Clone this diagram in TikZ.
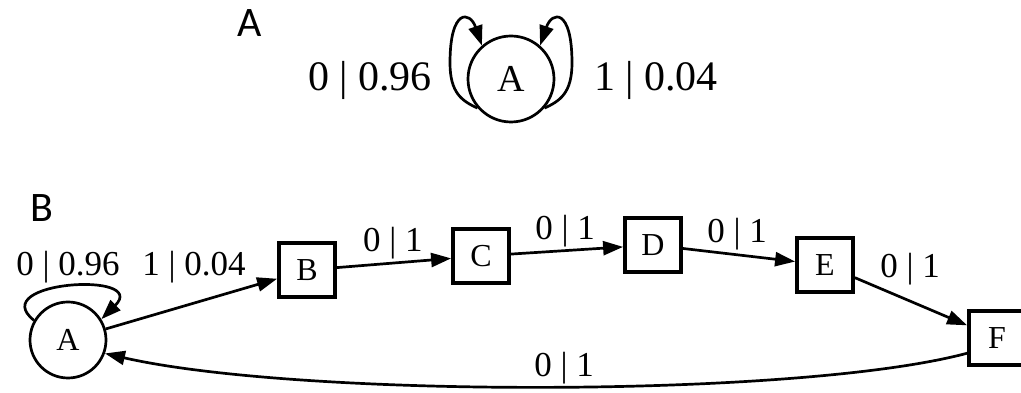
\documentclass[tikz,border=0pt]{standalone}
\usepackage{fontspec}
\setmainfont{Liberation Serif}
\newfontfamily\panelfont{Carlito}
\usetikzlibrary{arrows.meta}

\tikzset{
  panel/.style={font=\panelfont\fontsize{42}{44}\selectfont, inner sep=0pt},
  bigstate/.style={circle, draw, line width=2.7pt, minimum size=86pt, inner sep=0pt,
                   font=\fontsize{38}{40}\selectfont},
  state/.style={circle, draw, line width=2.7pt, minimum size=76pt, inner sep=0pt,
                font=\fontsize{32}{34}\selectfont},
  chain/.style={rectangle, draw, line width=3.8pt, minimum width=56pt, minimum height=54pt,
                inner sep=0pt, font=\fontsize{32}{34}\selectfont},
  biglabel/.style={font=\fontsize{42}{44}\selectfont, inner sep=0pt},
  elabel/.style={font=\fontsize{35}{38}\selectfont, inner sep=0pt},
  trans/.style={line width=2.7pt, -{Triangle[length=20pt,width=14pt]}},
}

\begin{document}
\begin{tikzpicture}[x=1pt, y=1pt]
  \useasboundingbox (0,0) rectangle (1021,393);

  % ---- panel A: single state with two self-loops ----
  \node[panel] (pa) at (250,370) {A};
  \node[bigstate] (A1) at (511,314) {A};
  \draw[trans] (A1.221) .. controls (462,292) and (450,300) .. (450,330)
                        .. controls (450,385) and (470,382) .. (A1.131);
  \draw[trans] (A1.319) .. controls (560,292) and (572,300) .. (572,330)
                        .. controls (572,385) and (552,382) .. (A1.49);
  \node[biglabel] (l0) at (370,313) {0 | 0.96};
  \node[biglabel] (l1) at (656,313) {1 | 0.04};

  % ---- panel B: chain of states ----
  \node[panel] (pb) at (42,185) {B};
  \node[state] (A2) at (68,53) {A};
  \node[chain] (B) at (307,123) {B};
  \node[chain] (C) at (481,137) {C};
  \node[chain] (D) at (653,148) {D};
  \node[chain] (E) at (825,128) {E};
  \node[chain] (F) at (997,55)  {F};

  \draw[trans] (A2.150) .. controls (-15,112) and (150,122) .. (A2.32);
  \node[elabel] (a0) at (68,126)  {0 | 0.96};
  \node[elabel] (a1) at (194,126) {1 | 0.04};

  \draw[trans] (A2) -- (B);
  \draw[trans] (B) -- (C);
  \draw[trans] (C) -- (D);
  \draw[trans] (D) -- (E);
  \draw[trans] (E) -- (F);
  \draw[trans] (F.207) .. controls (800,-5) and (300,-5) .. (A2.340);

  \node[elabel] (bc) at (393,150) {0 | 1};
  \node[elabel] (cd) at (565,162) {0 | 1};
  \node[elabel] (de) at (737,159) {0 | 1};
  \node[elabel] (ef) at (910,124) {0 | 1};
  \node[elabel] (fa) at (564,25)  {0 | 1};
\end{tikzpicture}
\end{document}
